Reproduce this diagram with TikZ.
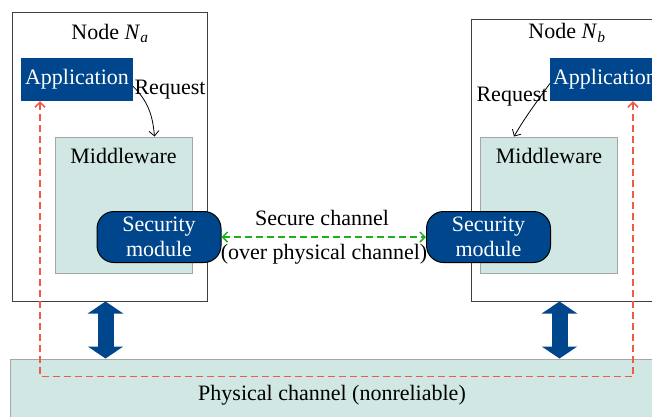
\documentclass[tikz,border=0pt]{standalone}
\usepackage{fontspec}
\setmainfont{Liberation Serif}
\usetikzlibrary{arrows.meta, calc}
\definecolor{appblue}{RGB}{0,70,140}
\definecolor{mwteal}{RGB}{208,231,228}
\definecolor{linkred}{RGB}{238,92,70}
\definecolor{linkgreen}{RGB}{30,175,30}
\tikzset{
    host box/.style={draw=black!75, line width=1pt, minimum width=195pt},
    app box/.style={fill=appblue, text=white, minimum height=43pt, inner sep=2pt},
    mw box/.style={fill=mwteal, draw=black!35, line width=1pt, minimum width=137pt, minimum height=136pt},
    sec box/.style={fill=appblue, draw=black, line width=1pt, rounded corners=17pt, text=white,
        align=center, minimum width=124pt, minimum height=51pt, inner sep=0pt,
        font=\fontsize{22}{25}\selectfont},
    barb/.tip={Straight Barb[length=5pt, width=10pt]}
}

\begin{document}
\begin{tikzpicture}[x=1pt, y=-1pt, font=\fontsize{22}{26}\selectfont,
        request/.style={-barb, line width=0.8pt},
        link/.style={barb-barb, dash pattern=on 7pt off 4pt, line width=1.5pt},
        io arrow/.style={appblue, line width=16pt,
            {Triangle[length=12pt, width=35pt]}-{Triangle[length=12pt, width=35pt]}}]
    \clip (0,0) rectangle (652,416);
    \node[fill=mwteal, draw=black!35, line width=1pt, minimum width=644pt, minimum height=72pt]
        (phys) at (332,395) {Physical channel (nonreliable)};
    \node[host box, minimum height=289pt] (na) at (109.5,156.5) {};
    \node[host box, minimum height=282pt] (nb) at (568.5,160) {};
    \node (la) at (110,33) {Node \textit{N}\textsubscript{\textit{a}}};
    \node (lb) at (567,33) {Node \textit{N}\textsubscript{\textit{b}}};
    \node[app box, minimum width=112pt] (apa) at (77,79.5) {Application};
    \node[app box, minimum width=110pt] (apb) at (605,79.5) {Application};
    \node[mw box] (mwa) at (123.5,205) {};
    \node[mw box] (mwb) at (549,205) {};
    \node[anchor=north] (tma) at ([yshift=-8pt]mwa.north) {Middleware};
    \node[anchor=north] (tmb) at ([yshift=-8pt]mwb.north) {Middleware};
    \node[sec box] (sa) at (159,237) {Security\\module};
    \node[sec box] (sb) at (488.5,237) {Security\\module};
    \node (rqa) at (170,90) {Request};
    \node (rqb) at (512,97) {Request};
    \node (sc) at (322,218) {Secure channel};
    \node (oc) at (324,254) {(over physical channel)};
    \draw[request] ([yshift=-7pt]apa.east) to[out=-45, in=95] ([xshift=31pt]mwa.north);
    \draw[request] ([yshift=-4pt]apb.west) to[out=-125, in=60] ([xshift=-35pt]mwb.north);
    \draw[link, color=linkgreen] (sa.east) -- (sb.west);
    \coordinate (ra) at ([xshift=-37pt]apa.south);
    \coordinate (rb) at ([xshift=28pt]apb.south);
    \coordinate (rbase) at ([yshift=-18pt]phys.north);
    \draw[link, color=linkred] (ra) -- (ra |- rbase) -- (rb |- rbase) -- (rb);
    \draw[io arrow] ([xshift=-4pt]na.south) -- ([xshift=-4pt]na.south |- phys.north);
    \draw[io arrow] ([xshift=-9pt]nb.south) -- ([xshift=-9pt]nb.south |- phys.north);
\end{tikzpicture}
\end{document}
